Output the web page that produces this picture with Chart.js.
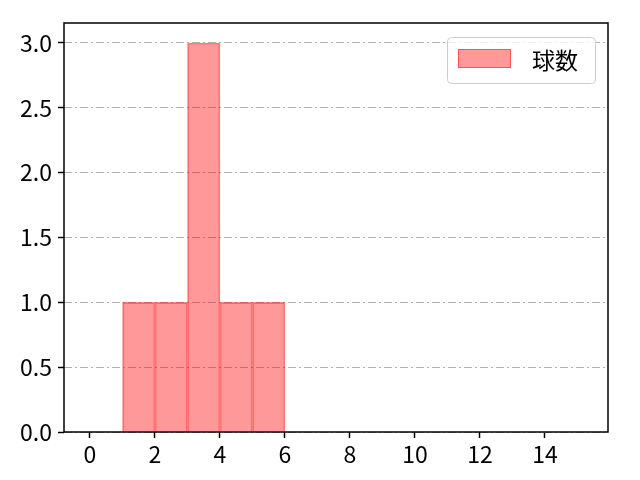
<!DOCTYPE html>
<html lang="ja">
<head>
    <meta charset="UTF-8">
    <title>球数</title>
    <script src="https://cdn.jsdelivr.net/npm/chart.js"></script>
    <style>
        body { margin: 0; background: white; }
        #wrap { width: 640px; height: 480px; }
    </style>
</head>
<body>
<div id="wrap"><canvas id="histChart"></canvas></div>
<script>
    // histogram bins (centre of each 1-wide bin) and counts
    const binCenters = [1.5, 2.5, 3.5, 4.5, 5.5];
    const counts = [1, 1, 3, 1, 1];
    const xTicks = [0, 2, 4, 6, 8, 10, 12, 14];
    const yTicks = [0, 0.5, 1.0, 1.5, 2.0, 2.5, 3.0];
    const seriesLabel = '球数';

    const FONT = '"Noto Sans CJK JP", "DejaVu Sans", sans-serif';
    const FILL = 'rgba(255, 0, 0, 0.4)';
    const EDGE = 'rgba(255, 0, 0, 0.45)';

    // axes frame + legend box drawn like matplotlib
    const frameAndLegend = {
        id: 'frameAndLegend',
        afterDraw(chart) {
            const c = chart.ctx;
            const a = chart.chartArea;
            c.save();
            // frame
            c.strokeStyle = '#000';
            c.lineWidth = 1.5;
            c.strokeRect(a.left, a.top, a.right - a.left, a.bottom - a.top);

            // legend
            const w = 148, h = 46;
            const lx = a.right - 13 - w, ly = a.top + 14;
            c.fillStyle = 'rgba(255,255,255,0.8)';
            c.strokeStyle = '#cccccc';
            c.lineWidth = 1;
            c.beginPath();
            c.roundRect(lx + 0.5, ly + 0.5, w, h, 4);
            c.fill();
            c.stroke();
            c.fillStyle = FILL;
            c.strokeStyle = EDGE;
            c.fillRect(lx + 11, ly + 12, 53, 19);
            c.strokeRect(lx + 11.5, ly + 12.5, 52, 18);
            c.fillStyle = '#000';
            c.font = '23px ' + FONT;
            c.textBaseline = 'middle';
            c.textAlign = 'left';
            c.fillText(seriesLabel, lx + 85, ly + 23);
            c.restore();
        }
    };

    const ctx = document.getElementById('histChart').getContext('2d');
    new Chart(ctx, {
        type: 'bar',
        data: {
            datasets: [{
                label: seriesLabel,
                data: binCenters.map((x, i) => ({ x: x, y: counts[i] })),
                backgroundColor: FILL,
                borderColor: EDGE,
                borderWidth: 1,
                barPercentage: 1.0,
                categoryPercentage: 1.0
            }]
        },
        plugins: [frameAndLegend],
        options: {
            responsive: true,
            maintainAspectRatio: false,
            animation: false,
            layout: { padding: { top: 23, right: 32, left: 0, bottom: 0 } },
            plugins: {
                tooltip: { enabled: false },
                legend: { display: false }
            },
            scales: {
                x: {
                    type: 'linear',
                    min: -0.8,
                    max: 15.94,
                    offset: false,
                    grid: {
                        display: true,
                        offset: false,
                        drawOnChartArea: false,
                        drawTicks: true,
                        tickLength: 6,
                        tickColor: '#000',
                        tickWidth: 1.5
                    },
                    border: { display: false },
                    afterBuildTicks: s => { s.ticks = xTicks.map(v => ({ value: v })); },
                    afterFit: s => { s.height = 48; },
                    ticks: {
                        autoSkip: false,
                        maxRotation: 0,
                        padding: 2,
                        color: '#000',
                        font: { family: FONT, size: 23 },
                        callback: v => String(v)
                    }
                },
                y: {
                    min: 0,
                    max: 3.154,
                    z: 1,
                    afterBuildTicks: s => { s.ticks = yTicks.map(v => ({ value: v })); },
                    afterFit: s => { s.width = 64; },
                    border: { display: false, dash: [8, 3, 2, 3] },
                    grid: {
                        color: '#b0b0b0',
                        lineWidth: 1,
                        drawTicks: true,
                        tickLength: 6,
                        tickColor: '#000',
                        tickWidth: 1.5
                    },
                    ticks: {
                        color: '#000',
                        padding: 6,
                        font: { family: FONT, size: 23 },
                        callback: v => v.toFixed(1)
                    }
                }
            }
        }
    });
</script>
</body>
</html>
